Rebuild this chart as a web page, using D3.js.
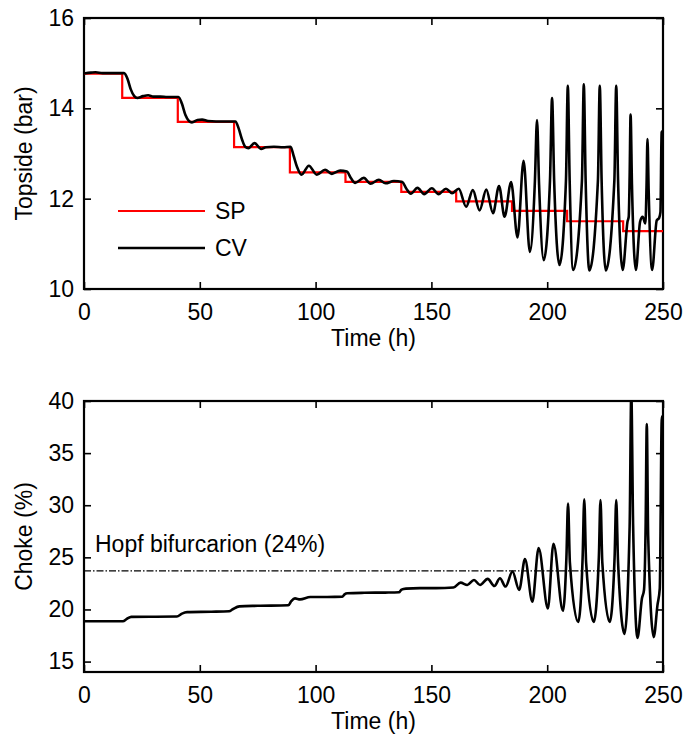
<!DOCTYPE html>
<html>
<head>
<meta charset="utf-8">
<script src="https://cdn.jsdelivr.net/npm/d3@7"></script>
<style>
  body { margin: 0; background: #fff; }
  text { font-family: "Liberation Sans", Arial, sans-serif; fill: #000; }
</style>
</head>
<body>
<script>
const width = 688;
const height = 739;

// tick values
const timeTicks = [0, 50, 100, 150, 200, 250];
const topsideTicks = [10, 12, 14, 16];
const chokeTicks = [15, 20, 25, 30, 35, 40];

// setpoint (SP) steps: value holds from spTime[i] until spTime[i+1]
const spTime = [0, 16.5, 40.5, 64.8, 88.9, 112.9, 137, 160.7, 184.8, 208.6, 232.8, 250];
const spValue = [14.77, 14.23, 13.70, 13.14, 12.58, 12.37, 12.15, 11.94, 11.73, 11.50, 11.28, 11.28];

// controlled variable (CV), topside pressure
const cvTime = [
  0, 3, 5, 8, 17.3, 18.8, 20.2, 21.7, 23, 25.5, 27.7, 30, 33, 36, 40.8,
  42.3, 43.8, 45.3, 46.6, 49, 51, 53.5, 57, 61, 65.4,
  66.8, 68.3, 69.6, 71, 73.6, 76.5, 78.5, 82, 86, 89.2,
  90.5, 92, 93.9, 97.1, 100.5, 104.1, 107, 110.6, 113.5,
  115.3, 117.1, 120.8, 123.7, 127.3, 130.2, 133.8, 137.4,
  139.2, 141.1, 144, 146.9, 150.2, 153.1, 156.3, 158.9, 161.8,
  165, 167.9, 170.8, 173.7, 176.6, 179.2, 181.6, 184.4,
  187.2, 189.8, 192.5, 194.7, 195.6, 196.5, 198.5, 201.2, 202.1, 203.0,
  205.3, 208.1, 208.9, 209.7, 211.2, 215.0, 215.8, 216.6, 218.2,
  221.9, 222.7, 223.5, 225.3, 229.0, 229.8, 230.6, 232.6,
  234.7, 235.2, 235.6, 236.0, 236.6, 238.3, 240.1, 241.2, 242.4, 242.9, 243.3, 243.8,
  245.3, 247.3, 248.3, 248.9, 249.4, 250
];
const cvTopside = [
  14.77, 14.79, 14.80, 14.78, 14.78, 14.65, 14.42, 14.27, 14.23, 14.27, 14.29, 14.26, 14.26, 14.25, 14.25,
  14.10, 13.85, 13.72, 13.69, 13.74, 13.75, 13.72, 13.71, 13.71, 13.71,
  13.55, 13.30, 13.15, 13.12, 13.23, 13.10, 13.14, 13.15, 13.14, 13.15,
  12.95, 12.70, 12.53, 12.73, 12.53, 12.64, 12.55, 12.62, 12.60,
  12.45, 12.35, 12.46, 12.33, 12.42, 12.34, 12.39, 12.37,
  12.22, 12.11, 12.24, 12.10, 12.23, 12.10, 12.22, 12.12, 12.22,
  11.82, 12.19, 11.74, 12.20, 11.68, 12.28, 11.60, 12.37,
  11.14, 12.84, 10.82, 12.40, 13.74, 12.30, 10.64, 12.40, 14.23, 12.40,
  10.53, 12.40, 14.50, 12.40, 10.42, 12.40, 14.53, 12.40, 10.41,
  12.40, 14.50, 12.40, 10.41, 12.40, 14.50, 12.40, 10.42,
  11.50, 11.60, 12.50, 13.86, 12.30, 10.42, 11.49, 11.60, 11.45, 12.30, 13.32, 12.20,
  10.42, 11.52, 11.57, 11.70, 13.47, 13.50
];

// choke opening (%)
const chokeTime = [
  0, 16.8, 18.5, 20.4, 30, 40.1, 42.3, 44.5, 55, 62.7, 64.1, 67.1, 75, 88.2,
  89.5, 91.1, 93.3, 97.7, 105, 111.5, 112.5, 113.7, 121, 130, 136,
  137.1, 139, 145, 152, 159.5, 162.6, 165.5, 168.4, 171, 174.3, 177.2, 179.6,
  182.0, 185.0, 187.9, 190.4, 193.6, 196.3, 200.3, 202.7, 206.8,
  208.3, 209.0, 209.8, 213.4, 215.3, 216.0, 216.8, 220.1,
  222.3, 223.0, 223.8, 227.0, 229.1, 229.8, 230.6, 233.4,
  235.6, 236.3, 237.1, 239.0, 240.9, 241.8, 242.5, 243.0, 243.6, 246.0,
  247.6, 248.6, 249.5, 250
];
const chokeValue = [
  18.87, 18.87, 19.10, 19.29, 19.30, 19.32, 19.60, 19.74, 19.78, 19.83, 20.00, 20.30, 20.35, 20.40,
  20.80, 21.06, 20.97, 21.20, 21.20, 21.23, 21.45, 21.55, 21.60, 21.62, 21.65,
  21.90, 22.00, 22.05, 22.05, 22.10, 22.57, 22.35, 22.83, 22.35, 22.93, 22.25, 23.00,
  22.20, 23.64, 21.87, 24.83, 20.74, 25.90, 20.10, 26.30, 19.87,
  25.00, 30.17, 24.50, 18.80, 25.00, 30.57, 24.50, 18.80,
  25.00, 30.50, 24.50, 18.80, 25.00, 30.50, 24.50, 17.65,
  28.00, 40.80, 28.00, 17.27, 21.06, 21.87, 28.00, 37.80, 27.00, 17.35,
  20.40, 22.00, 38.50, 38.50
];

const hopfLevel = 23.7;

const svg = d3.select('body').append('svg')
  .attr('width', width)
  .attr('height', height);

const x = d3.scaleLinear().domain([0, 250]).range([84, 663]);
const yTop = d3.scaleLinear().domain([10, 16]).range([289, 18]);
const yBot = d3.scaleLinear().domain([14, 40]).range([672, 401]);

const fontSize = 23;

// draws a boxed panel with inward ticks on all four sides
function drawFrame(y, yTicks, panel) {
  const [y0, y1] = y.range();
  const g = svg.append('g');

  const styleAxis = sel => {
    sel.select('.domain').remove();
    sel.selectAll('line').attr('stroke', '#000').attr('stroke-width', 1.6);
    sel.selectAll('text').style('font-size', fontSize + 'px').attr('fill', '#000');
  };

  g.append('g').attr('transform', `translate(0,${y0})`)
    .call(d3.axisBottom(x).tickValues(timeTicks).tickSize(-7).tickPadding(15))
    .call(styleAxis);
  g.append('g').attr('transform', `translate(0,${y1})`)
    .call(d3.axisTop(x).tickValues(timeTicks).tickSize(-7).tickFormat(''))
    .call(styleAxis);
  g.append('g').attr('transform', `translate(${x(0)},0)`)
    .call(d3.axisLeft(y).tickValues(yTicks).tickSize(-7).tickPadding(10).tickFormat(d3.format('d')))
    .call(styleAxis);
  g.append('g').attr('transform', `translate(${x(250)},0)`)
    .call(d3.axisRight(y).tickValues(yTicks).tickSize(-7).tickFormat(''))
    .call(styleAxis);

  g.append('rect')
    .attr('x', x(0)).attr('y', y1)
    .attr('width', x(250) - x(0)).attr('height', y0 - y1)
    .attr('fill', 'none').attr('stroke', '#000').attr('stroke-width', 2.2);

  // clip for the data lines
  svg.append('clipPath').attr('id', 'clip-' + panel)
    .append('rect')
    .attr('x', x(0)).attr('y', y1)
    .attr('width', x(250) - x(0)).attr('height', y0 - y1);

  g.append('text')
    .attr('x', (x(0) + x(250)) / 2).attr('y', y0 + 57)
    .attr('text-anchor', 'middle')
    .style('font-size', fontSize + 'px')
    .text('Time (h)');
}

// ---- top panel ----
drawFrame(yTop, topsideTicks, 'top');

const spLine = d3.line()
  .x(d => x(d[0]))
  .y(d => yTop(d[1]))
  .curve(d3.curveStepAfter);

const cvLine = d3.line()
  .x(d => x(d[0]))
  .y(d => yTop(d[1]))
  .curve(d3.curveMonotoneX);

const topPlot = svg.append('g').attr('clip-path', 'url(#clip-top)');

topPlot.append('path')
  .datum(d3.zip(spTime, spValue))
  .attr('d', spLine)
  .attr('fill', 'none')
  .attr('stroke', '#ff0000')
  .attr('stroke-width', 2.2);

topPlot.append('path')
  .datum(d3.zip(cvTime, cvTopside))
  .attr('d', cvLine)
  .attr('fill', 'none')
  .attr('stroke', '#000')
  .attr('stroke-width', 2.6)
  .attr('stroke-linejoin', 'round');

svg.append('text')
  .attr('transform', `translate(32,${(yTop(10) + yTop(16)) / 2}) rotate(-90)`)
  .attr('text-anchor', 'middle')
  .style('font-size', fontSize + 'px')
  .text('Topside (bar)');

// legend
const legend = [
  { name: 'SP', color: '#ff0000', y: 211, w: 2.2 },
  { name: 'CV', color: '#000', y: 248, w: 2.6 },
];
const lg = svg.append('g');
lg.selectAll('line')
  .data(legend)
  .enter()
  .append('line')
    .attr('x1', 118).attr('x2', 205)
    .attr('y1', d => d.y).attr('y2', d => d.y)
    .attr('stroke', d => d.color)
    .attr('stroke-width', d => d.w);
lg.selectAll('text')
  .data(legend)
  .enter()
  .append('text')
    .attr('x', 215)
    .attr('y', d => d.y + 8)
    .style('font-size', fontSize + 'px')
    .text(d => d.name);

// ---- bottom panel ----
drawFrame(yBot, chokeTicks, 'bot');

const chokeLine = d3.line()
  .x(d => x(d[0]))
  .y(d => yBot(d[1]))
  .curve(d3.curveMonotoneX);

const botPlot = svg.append('g').attr('clip-path', 'url(#clip-bot)');

botPlot.append('line')
  .attr('x1', x(0)).attr('x2', x(250))
  .attr('y1', yBot(hopfLevel)).attr('y2', yBot(hopfLevel))
  .attr('stroke', '#000')
  .attr('stroke-width', 1.1)
  .attr('stroke-dasharray', '7,2,1.5,2');

botPlot.append('path')
  .datum(d3.zip(chokeTime, chokeValue))
  .attr('d', chokeLine)
  .attr('fill', 'none')
  .attr('stroke', '#000')
  .attr('stroke-width', 2.6)
  .attr('stroke-linejoin', 'round');

svg.append('text')
  .attr('x', 95).attr('y', 552)
  .style('font-size', fontSize + 'px')
  .text('Hopf bifurcarion (24%)');

svg.append('text')
  .attr('transform', `translate(32,${(yBot(14) + yBot(40)) / 2}) rotate(-90)`)
  .attr('text-anchor', 'middle')
  .style('font-size', fontSize + 'px')
  .text('Choke (%)');
</script>
</body>
</html>
